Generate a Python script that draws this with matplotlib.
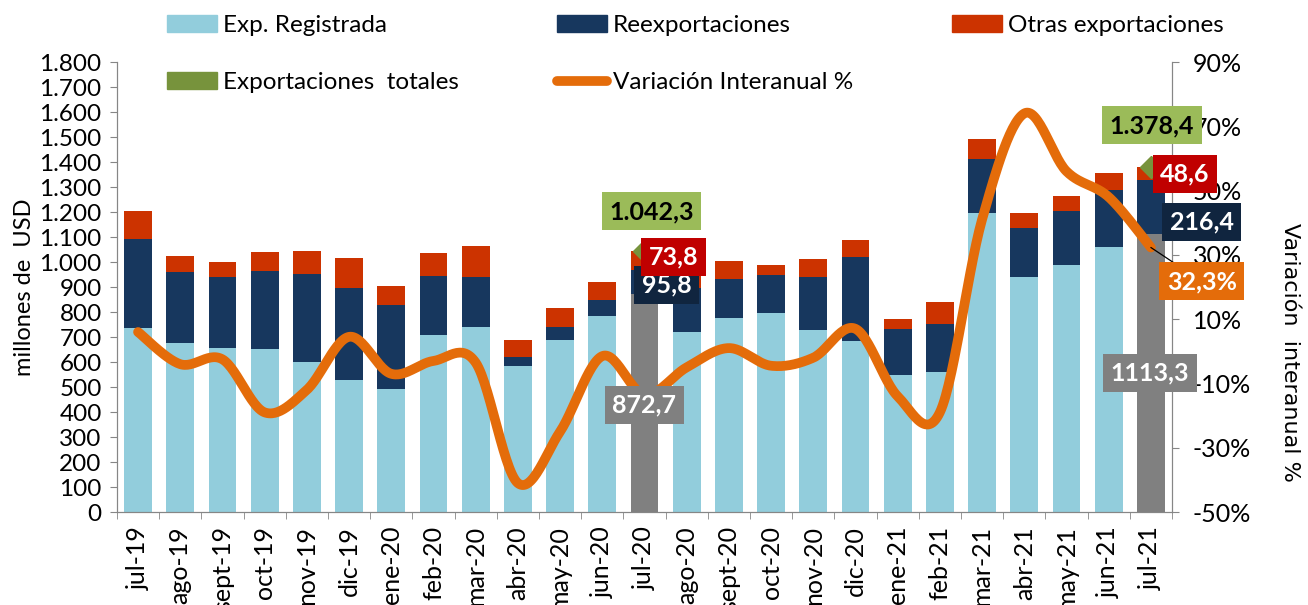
import numpy as np
import matplotlib.pyplot as plt
from matplotlib.patches import Patch
from matplotlib.lines import Line2D

plt.rcParams['font.family'] = ['Lato', 'DejaVu Sans']

# data (millones de USD, %)
meses = ['jul-19', 'ago-19', 'sept-19', 'oct-19', 'nov-19', 'dic-19', 'ene-20', 'feb-20',
         'mar-20', 'abr-20', 'may-20', 'jun-20', 'jul-20', 'ago-20', 'sept-20', 'oct-20',
         'nov-20', 'dic-20', 'ene-21', 'feb-21', 'mar-21', 'abr-21', 'may-21', 'jun-21', 'jul-21']
registrada = [737, 676, 655, 651, 599, 527, 492, 708, 741, 584, 688, 783, 872.7,
              719, 777, 795, 728, 684, 547, 561, 1195, 939, 988, 1059, 1113.3]
reexport = [354, 283, 286, 312, 353, 368, 337, 235, 199, 35, 53, 65, 95.8,
            177, 154, 153, 213, 337, 186, 191, 218, 198, 217, 228, 216.4]
otras = [114, 66, 60, 77, 91, 121, 74, 94, 125, 70, 74, 73, 73.8,
         80, 73, 41, 70, 67, 38, 88, 78, 58, 60, 68, 48.6]
variacion = [6, -4, -2.5, -19, -12, 4.5, -7, -3, -3.5, -41, -25, -1.5, -13.5,
             -5, 1, -4.5, -2, 7, -14, -19, 41, 74, 56, 48, 32.3]
destacados = ['jul-20', 'jul-21']
etiq_total = {'jul-20': '1.042,3', 'jul-21': '1.378,4'}
etiq_reg = {'jul-20': '872,7', 'jul-21': '1113,3'}
etiq_reex = {'jul-20': '95,8', 'jul-21': '216,4'}
etiq_otras = {'jul-20': '73,8', 'jul-21': '48,6'}

C_REG = '#92CDDC'
C_REEX = '#17375E'
C_OTR = '#CC3300'
C_GRIS = '#808080'
C_LIN = '#E46C0A'
C_VERDE = '#9BBB59'
C_VERDE_OSC = '#77933C'
C_ROJO = '#C00000'
C_NAVY = '#10253F'
C_EJE = '#868686'


def suavizar(xs, ys, n=30):
    # smoothed line like the spreadsheet's (Catmull-Rom / bezier)
    p = np.column_stack([xs, ys]).astype(float)
    out = []
    for i in range(len(p) - 1):
        p0 = p[i - 1] if i > 0 else p[i]
        p1, p2 = p[i], p[i + 1]
        p3 = p[i + 2] if i + 2 < len(p) else p[i + 1]
        c1 = p1 + (p2 - p0) / 6
        c2 = p2 - (p3 - p1) / 6
        t = np.linspace(0, 1, n)[:, None]
        seg = (1 - t) ** 3 * p1 + 3 * (1 - t) ** 2 * t * c1 + 3 * (1 - t) * t ** 2 * c2 + t ** 3 * p2
        out.append(seg if i == 0 else seg[1:])
    out = np.vstack(out)
    return out[:, 0], out[:, 1]


x = np.arange(len(meses))
reg = np.array(registrada)
rex = np.array(reexport)
otr = np.array(otras)
total = reg + rex + otr
col_reg = [C_GRIS if m in destacados else C_REG for m in meses]

fig = plt.figure(figsize=(13.08, 6.05), dpi=100)
ax = fig.add_axes([0.0894, 0.1537, 0.8066, 0.7438])
ax2 = ax.twinx()

w = 0.66
ax.bar(x, reg, w, color=col_reg, zorder=2)
ax.bar(x, rex, w, bottom=reg, color=C_REEX, zorder=2)
ax.bar(x, otr, w, bottom=reg + rex, color=C_OTR, zorder=2)

ax.set_xlim(-0.5, len(meses) - 0.5)
ax.set_ylim(0, 1800)
ax.set_yticks(np.arange(0, 1801, 100))
ax.set_yticklabels([f'{v:,}'.replace(',', '.') for v in range(0, 1801, 100)], fontsize=17.5)
ax.set_xticks(x)
ax.set_xticklabels(meses, rotation=90, fontsize=18)
ax.set_xticks(np.arange(-0.5, len(meses), 1), minor=True)
ax.tick_params(axis='x', which='major', length=0, pad=10)
ax.tick_params(axis='x', which='minor', length=5, color=C_EJE, direction='out')
ax.tick_params(axis='y', length=5, color=C_EJE, direction='out', pad=6)
ax.set_ylabel('millones de  USD', fontsize=17, labelpad=3)

ax2.set_ylim(-50, 90)
ax2.set_yticks(np.arange(-50, 91, 20))
ax2.set_yticklabels([f'{v}%' for v in range(-50, 91, 20)], fontsize=18)
ax2.tick_params(axis='y', length=5, color=C_EJE, direction='out', pad=10)

for a in (ax, ax2):
    a.spines['top'].set_visible(False)
    for s in ('left', 'right', 'bottom'):
        a.spines[s].set_color(C_EJE)

fig.text(0.986, 0.418, 'Variación  interanual %', rotation=-90, fontsize=16,
         ha='center', va='center', family=['DejaVu Sans'])

xs, ys = suavizar(x, variacion)
ax2.plot(xs, ys, color=C_LIN, lw=7, solid_capstyle='round', zorder=3)

# total markers (Exportaciones totales)
for m in destacados:
    i = meses.index(m)
    ax2.plot([i], [total[i]], transform=ax.transData, marker='D', ms=11,
             color=C_VERDE_OSC, ls='none', zorder=4)


def caja(texto, xy, dx, dy, fondo, color='white', trans=None, **kw):
    ax2.annotate(texto, xy=xy, xycoords=trans or ax.transData,
                 xytext=(dx * 0.72, dy * 0.72), textcoords='offset points',
                 ha='center', va='center', fontsize=18, fontweight='bold', color=color,
                 bbox=dict(boxstyle='square,pad=0.3', fc=fondo, ec='none'), zorder=6, **kw)


i = meses.index('jul-20')
caja(etiq_reg['jul-20'], (i, reg[i] / 2), 0, -2, C_GRIS)
caja(etiq_reex['jul-20'], (i, reg[i] + rex[i] / 2), 22, -3, C_NAVY)
caja(etiq_otras['jul-20'], (i, total[i] - otr[i] / 2), 29, 4, C_ROJO)
caja(etiq_total['jul-20'], (i, total[i]), 7, 40, C_VERDE, color='black')

i = meses.index('jul-21')
caja(etiq_reg['jul-21'], (i, reg[i] / 2), -1, 0, C_GRIS)
caja(etiq_reex['jul-21'], (i, reg[i] + rex[i] / 2), 51, -15, C_NAVY)
caja(etiq_otras['jul-21'], (i, total[i] - otr[i] / 2), 34, 0, C_ROJO)
caja(etiq_total['jul-21'], (i, total[i]), 1, 42, C_VERDE, color='black')
caja(f'{variacion[i]:.1f}%'.replace('.', ','), (i, variacion[i]), 51, -34, C_LIN,
     trans=ax2.transData,
     arrowprops=dict(arrowstyle='-', color='black', lw=0.9, shrinkA=0, shrinkB=0))

handles = [Patch(color=C_REG, label='Exp. Registrada'),
           Patch(color=C_VERDE_OSC, label='Exportaciones  totales'),
           Patch(color=C_REEX, label='Reexportaciones'),
           Line2D([], [], color=C_LIN, lw=7, solid_capstyle='round', label='Variación Interanual %'),
           Patch(color=C_OTR, label='Otras exportaciones')]
fig.legend(handles=handles, ncol=3, loc='upper left', bbox_to_anchor=(0.111, 1.012),
           frameon=False, fontsize=17.5, handlelength=2.05, handleheight=0.7,
           handletextpad=0.25, columnspacing=4.05, labelspacing=1.5)

fig.savefig('out.png', dpi=100)
